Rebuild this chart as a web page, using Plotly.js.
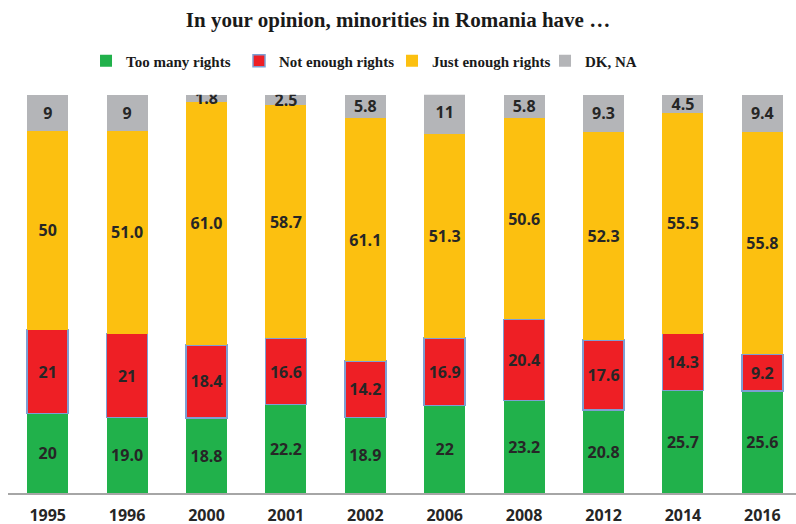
<!DOCTYPE html>
<html>
<head>
<meta charset="utf-8">
<script src="https://cdn.plot.ly/plotly-3.0.1.min.js"></script>
<style>html,body{margin:0;padding:0;background:#fff;}#chart{width:796px;height:524px;}</style>
</head>
<body>
<div id="chart"></div>
<script>
const years = ['1995','1996','2000','2001','2002','2006','2008','2012','2014','2016'];
const tooMany    = [20, 19.0, 18.8, 22.2, 18.9, 22, 23.2, 20.8, 25.7, 25.6];
const notEnough  = [21, 21, 18.4, 16.6, 14.2, 16.9, 20.4, 17.6, 14.3, 9.2];
const justEnough = [50, 51.0, 61.0, 58.7, 61.1, 51.3, 50.6, 52.3, 55.5, 55.8];
const dkna       = [9, 9, 1.8, 2.5, 5.8, 11, 5.8, 9.3, 4.5, 9.4];
const tooManyLbl    = ['20','19.0','18.8','22.2','18.9','22','23.2','20.8','25.7','25.6'];
const notEnoughLbl  = ['21','21','18.4','16.6','14.2','16.9','20.4','17.6','14.3','9.2'];
const justEnoughLbl = ['50','51.0','61.0','58.7','61.1','51.3','50.6','52.3','55.5','55.8'];
const dknaLbl       = ['9','9','1.8','2.5','5.8','11','5.8','9.3','4.5','9.4'];

const labelFont = {family:'"Open Sans", sans-serif', size:16, color:'#262626', weight:700};
function mk(name, y, txt, color, line) {
  return {
    type:'bar', name:name, x:years, y:y, text:txt,
    textposition:'inside', insidetextanchor:'middle', textangle:0,
    textfont:labelFont, insidetextfont:labelFont,
    marker:{color:color, line:line || {width:0}},
    cliponaxis:false, hoverinfo:'skip'
  };
}
const data = [
  mk('Too many rights', tooMany, tooManyLbl, '#21B14B'),
  mk('Not enough rights', notEnough, notEnoughLbl, '#EE1F25', {color:'#7E9FD3', width:1.5}),
  mk('Just enough rights', justEnough, justEnoughLbl, '#FCC010'),
  mk('DK, NA', dkna, dknaLbl, '#B4B5B8')
];
const layout = {
  width:796, height:524,
  margin:{l:8, r:0, t:90, b:31},
  paper_bgcolor:'#fff', plot_bgcolor:'#fff',
  barmode:'stack', bargap:0.484,
  uniformtext:{mode:'show', minsize:16},
  title:{text:'<b>In your opinion, minorities in Romania have …</b>',
    font:{family:'"Liberation Serif", "Times New Roman", serif', size:21, color:'#1a1a1a'},
    x:0.5, xanchor:'center', y:0.962, yanchor:'middle'},
  showlegend:true,
  legend:{orientation:'h', x:0.099, xanchor:'left', y:1.072, yanchor:'middle',
    font:{family:'"Liberation Serif", "Times New Roman", serif', size:15, color:'#1a1a1a', weight:700},
    traceorder:'normal', itemwidth:30, entrywidth:108, entrywidthmode:'pixels'},
  xaxis:{type:'category', range:[-0.5, 9.424], showgrid:false, zeroline:false,
    showline:true, linecolor:'#A6A6A6', linewidth:1.5, ticks:'',
    tickfont:{family:'"Open Sans", sans-serif', size:16, color:'#262626', weight:700},
    ticklabelstandoff:7, fixedrange:true},
  yaxis:{range:[0,101.2], visible:false, showgrid:false, zeroline:false, fixedrange:true},
  shapes:[{type:'rect', xref:'paper', yref:'y', x0:0, x1:1, y0:100, y1:101.2,
    fillcolor:'#ffffff', line:{width:0}, layer:'above'}]
};
Plotly.newPlot('chart', data, layout, {displayModeBar:false, staticPlot:true});
</script>
</body>
</html>
